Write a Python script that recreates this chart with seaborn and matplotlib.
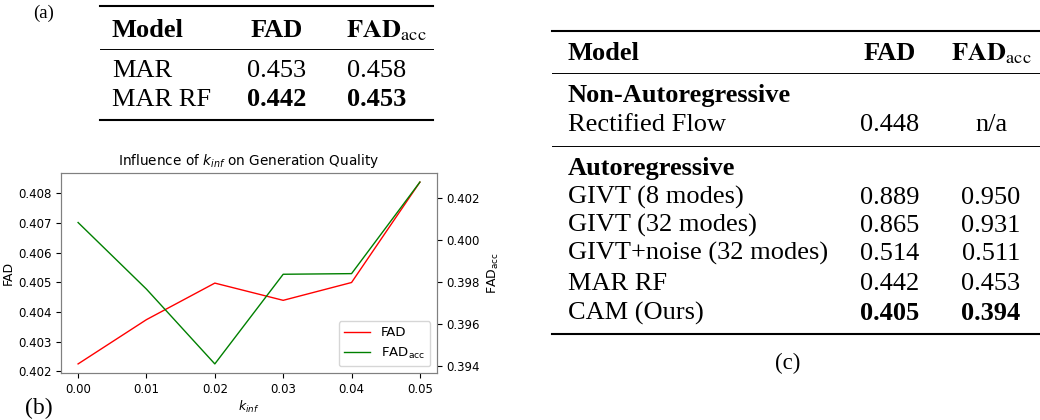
import matplotlib.pyplot as plt
import matplotlib as mpl
import seaborn as sns
from matplotlib.lines import Line2D

# data for panel (b)
k_inf = [0.00, 0.01, 0.02, 0.03, 0.04, 0.05]
fad = [0.40225, 0.40374, 0.40497, 0.40439, 0.40499, 0.40837]
fad_acc = [0.40083, 0.39765, 0.39408, 0.39836, 0.39839, 0.40276]

# data for table (a)
a_models = ["MAR", "MAR RF"]
a_fad = ["0.453", "0.442"]
a_fad_acc = ["0.458", "0.453"]
a_bold = [False, True]

# data for table (c)
c_groups = ["Non-Autoregressive", "Autoregressive"]
c_models = ["Rectified Flow", "GIVT (8 modes)", "GIVT (32 modes)",
            "GIVT+noise (32 modes)", "MAR RF", "CAM (Ours)"]
c_fad = ["0.448", "0.889", "0.865", "0.514", "0.442", "0.405"]
c_fad_acc = ["n/a", "0.950", "0.931", "0.511", "0.453", "0.394"]
c_bold = [False, False, False, False, False, True]

W, H = 1040, 420
fig = plt.figure(figsize=(W / 100, H / 100), dpi=100)

SERIF = "Liberation Serif"


def px(x, y):
    # pixel position (from top-left) -> figure fraction
    return x / W, 1 - y / H


def txt(x, y, s, size=19, bold=False, ha="left", math=False):
    fx, fy = px(x, y)
    kw = dict(ha=ha, va="baseline", fontsize=size, family=SERIF,
              weight="bold" if bold else "normal")
    if math:
        kw["math_fontfamily"] = "stix"
    fig.text(fx, fy, s, **kw)


def rule(x0, x1, y, lw):
    fy = 1 - y / H
    fig.add_artist(Line2D([x0 / W, x1 / W], [fy, fy], color="black", lw=lw,
                          transform=fig.transFigure))


# ---- table (a)
txt(33, 18, "(a)", size=13.5)
rule(100, 433, 6, 1.5)
txt(112, 37, "Model", bold=True)
txt(277, 37, "FAD", bold=True, ha="center")
txt(386, 37, r"$\mathbf{FAD}_{\mathrm{acc}}$", ha="center", math=True)
rule(100, 433, 48.5, 0.7)
for i, m in enumerate(a_models):
    yb = 77 + i * 29
    txt(112, yb, m)
    txt(277, yb, a_fad[i], bold=a_bold[i], ha="center")
    txt(377, yb, a_fad_acc[i], bold=a_bold[i], ha="center")
rule(100, 433, 120, 1.5)

# ---- table (c)
rule(552, 1040, 31, 1.5)
txt(568, 60, "Model", bold=True)
txt(890, 60, "FAD", bold=True, ha="center")
txt(991, 60, r"$\mathbf{FAD}_{\mathrm{acc}}$", ha="center", math=True)
rule(552, 1040, 73, 0.7)
txt(568, 102, c_groups[0], bold=True)
txt(568, 131, c_models[0])
txt(890, 131, c_fad[0], ha="center")
txt(992, 131, c_fad_acc[0], ha="center")
rule(552, 1040, 146, 0.7)
txt(568, 175, c_groups[1], bold=True)
row_y = [204, 232, 260, 290, 320]
for j, yb in enumerate(row_y):
    i = j + 1
    txt(568, yb, c_models[i])
    txt(890, yb, c_fad[i], bold=c_bold[i], ha="center")
    txt(991, yb, c_fad_acc[i], bold=c_bold[i], ha="center")
rule(552, 1040, 334, 1.5)
txt(788, 369, "(c)", size=16.5, ha="center")

# ---- panel (b): line chart
ax1 = fig.add_axes([61 / W, 47 / H, 376 / W, 200 / H])
ax2 = ax1.twinx()
sns.lineplot(x=k_inf, y=fad, ax=ax1, color="red", lw=1, label="FAD")
sns.lineplot(x=k_inf, y=fad_acc, ax=ax2, color="green", lw=1,
             label=r"FAD$_{\mathrm{acc}}$")

fs_tick = 8.5
fs_lab = 9
ax1.set_title(r"Influence of $k_{inf}$ on Generation Quality", fontsize=9.8)
ax1.set_xlabel(r"$k_{inf}$", fontsize=fs_lab, labelpad=2)
ax1.set_ylabel("FAD", fontsize=fs_lab, labelpad=2)
ax2.set_ylabel(r"FAD$_{\mathrm{acc}}$", fontsize=fs_lab)
ax1.set_xticks(k_inf)
ax1.set_xticklabels([f"{k:.2f}" for k in k_inf])
ax1.set_yticks([0.402, 0.403, 0.404, 0.405, 0.406, 0.407, 0.408])
ax1.set_yticklabels([f"{v:.3f}" for v in ax1.get_yticks()])
ax2.set_yticks([0.394, 0.396, 0.398, 0.400, 0.402])
ax2.set_yticklabels([f"{v:.3f}" for v in ax2.get_yticks()])
for ax in (ax1, ax2):
    ax.tick_params(labelsize=fs_tick)
    for s in ax.spines.values():
        s.set_color("0.5")

h1, l1 = ax1.get_legend_handles_labels()
h2, l2 = ax2.get_legend_handles_labels()
ax1.get_legend().remove()
ax2.legend(h1 + h2, l1 + l2, loc="lower right", fontsize=9.5)

txt(25, 414, "(b)", size=17)

fig.savefig("out.png", dpi=100)
